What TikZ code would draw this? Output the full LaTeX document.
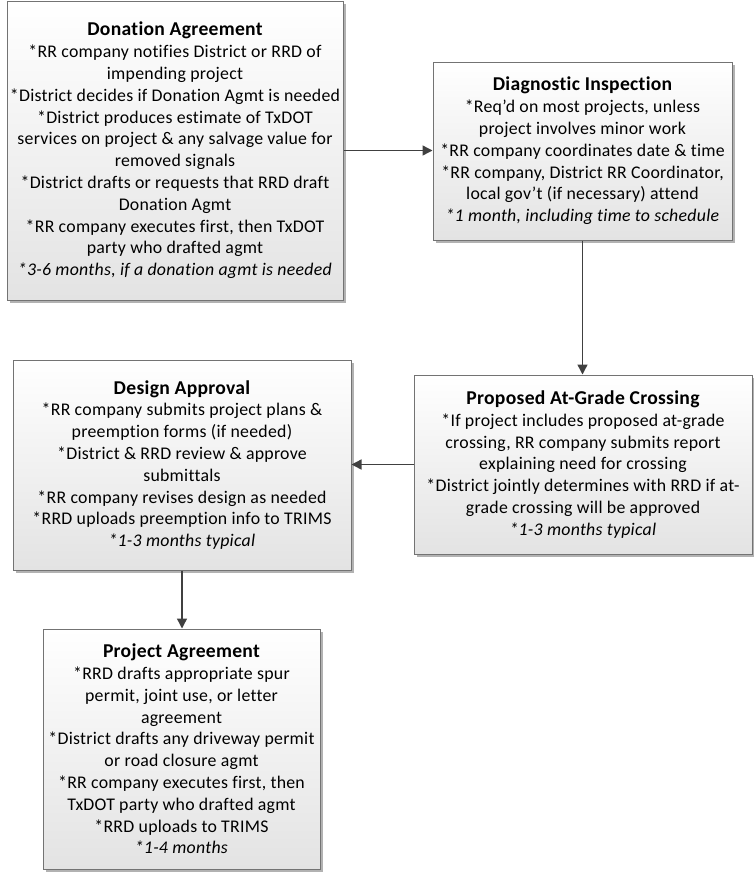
\documentclass[tikz,border=0pt]{standalone}
\usepackage{fontspec}
\setmainfont{Carlito}[Ligatures={NoCommon}, LetterSpace=1.5]
\usetikzlibrary{arrows.meta,shadows}
\tikzset{
  x=1pt, y=-1pt,
  stage/.style={draw=black!55, line width=1pt, shading=axis, top color=white, bottom color=black!11,
    general shadow={fill=black!30, shadow xshift=2.5pt, shadow yshift=-2.5pt},
    align=center, inner sep=0pt, font=\fontsize{17.8}{21.8}\selectfont},
  flow/.style={draw=black!75, line width=1.4pt, -{Triangle[length=10pt,width=10pt]}},
}
\newcommand{\ttl}[1]{{\fontsize{19.6}{23.5}\selectfont\bfseries #1}}
\begin{document}
\begin{tikzpicture}
\useasboundingbox (0,0) rectangle (754,873);
\node[stage, minimum width=336pt, minimum height=299pt] (don) at (175,150.5) {\ttl{Donation Agreement}\\
*RR company notifies District or RRD of\\ impending project\\
*District decides if Donation Agmt is needed\\
*District produces estimate of TxDOT\\ services on project \& any salvage value for\\ removed signals\\
*District drafts or requests that RRD draft\\ Donation Agmt\\
*RR company executes first, then TxDOT\\ party who drafted agmt\\
\textit{*3-6 months, if a donation agmt is needed}};
\node[stage, minimum width=299pt, minimum height=178pt] (diag) at (582.5,151) {\ttl{Diagnostic Inspection}\\
*Req’d on most projects, unless\\ project involves minor work\\
*RR company coordinates date \& time\\
*RR company, District RR Coordinator,\\ local gov’t (if necessary) attend\\
\textit{*1 month, including time to schedule}};
\node[stage, minimum width=338pt, minimum height=179pt] (prop) at (583,464.5) {\ttl{Proposed At-Grade Crossing}\\
*If project includes proposed at-grade\\ crossing, RR company submits report\\ explaining need for crossing\\
*District jointly determines with RRD if at-\\ grade crossing will be approved\\
\textit{*1-3 months typical}};
\node[stage, minimum width=338pt, minimum height=210pt] (des) at (182,465) {\ttl{Design Approval}\\
*RR company submits project plans \&\\ preemption forms (if needed)\\
*District \& RRD review \& approve\\ submittals\\
*RR company revises design as needed\\
*RRD uploads preemption info to TRIMS\\
\textit{*1-3 months typical}};
\node[stage, minimum width=277pt, minimum height=240pt] (proj) at (181.5,749) {\ttl{Project Agreement}\\
*RRD drafts appropriate spur\\ permit, joint use, or letter\\ agreement\\
*District drafts any driveway permit\\ or road closure agmt\\
*RR company executes first, then\\ TxDOT party who drafted agmt\\
*RRD uploads to TRIMS\\
\textit{*1-4 months}};
\draw[flow] (don.east) -- (diag.west |- don.east);
\draw[flow] (diag.south) -- (prop.north -| diag.south);
\draw[flow] (prop.west) -- (des.east |- prop.west);
\draw[flow] (des.south) -- (proj.north -| des.south);
\end{tikzpicture}
\end{document}
